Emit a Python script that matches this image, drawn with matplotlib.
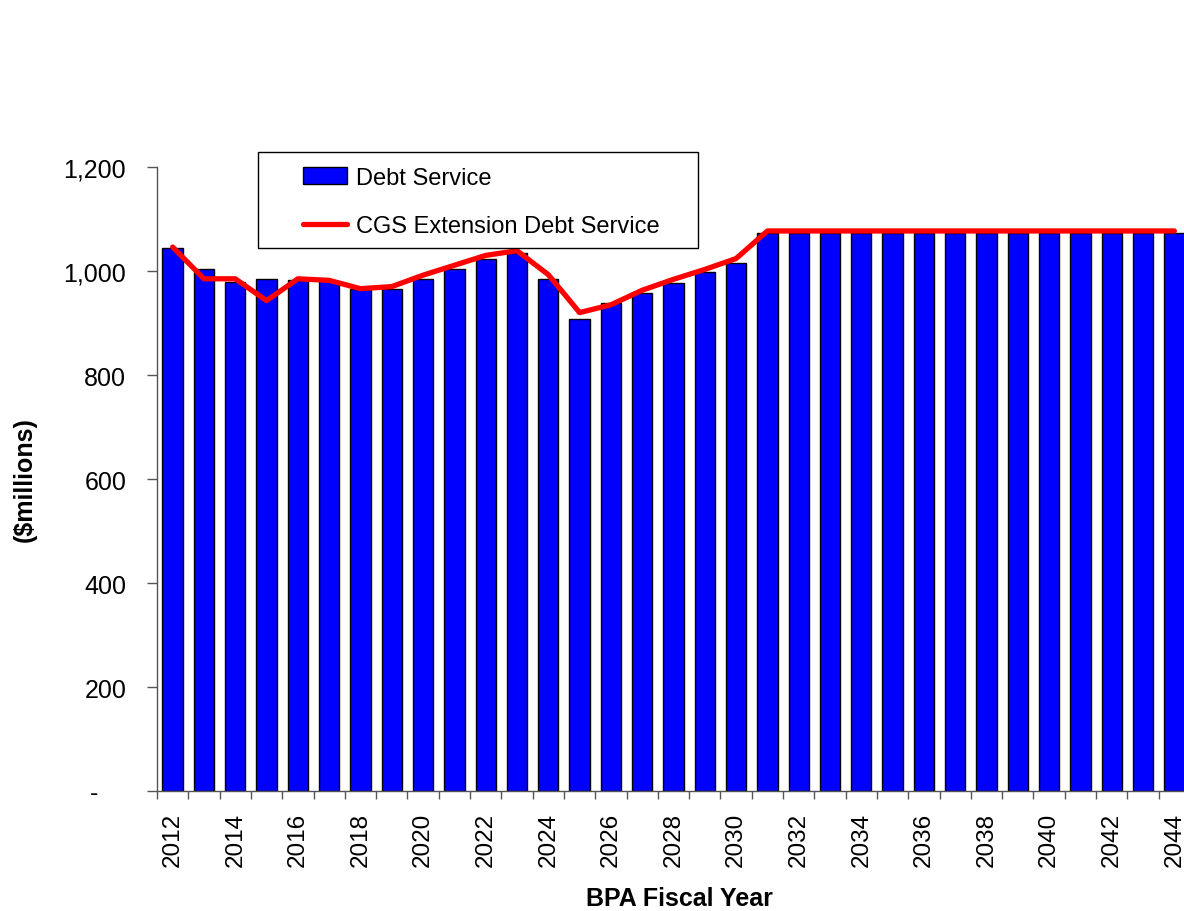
import matplotlib
matplotlib.use("Agg")
import matplotlib.pyplot as plt
from matplotlib.patches import Rectangle
from matplotlib.ticker import FixedLocator, FuncFormatter

plt.rcParams["font.family"] = ["Liberation Sans", "DejaVu Sans"]

# Fiscal years and debt service ($ millions)
years = list(range(2012, 2045))
debt_service = [1045, 1004, 979, 985, 982, 980, 966, 966, 985, 1004,
                1024, 1035, 985, 907, 938, 958, 976, 998, 1016, 1073,
                1073, 1073, 1073, 1073, 1073, 1073, 1073, 1073, 1073, 1073,
                1073, 1073, 1073]
cgs_extension = [1046, 985, 985, 943, 985, 982, 966, 970, 992, 1011,
                 1030, 1039, 993, 920, 935, 963, 984, 1003, 1024, 1077,
                 1077, 1077, 1077, 1077, 1077, 1077, 1077, 1077, 1077, 1077,
                 1077, 1077, 1077]
y_ticks = [0, 200, 400, 600, 800, 1000, 1200]

W, H = 1184, 912
fig = plt.figure(figsize=(W / 100, H / 100), dpi=100)
ax = fig.add_axes([157 / W, 1 - 792 / H, (1190 - 157) / W, (792 - 168) / H])

x = list(range(len(years)))
bars = ax.bar(x, debt_service, width=0.65, color="#0000FF",
              edgecolor="black", linewidth=1.0, label="Debt Service", zorder=2)
line, = ax.plot(x, cgs_extension, color="#FF0000", linewidth=3.8,
                solid_capstyle="round", solid_joinstyle="round",
                label="CGS Extension Debt Service", zorder=3)

ax.set_xlim(-0.5, len(years) - 0.5)
ax.set_ylim(0, 1200)

# spines
for side in ("top", "right"):
    ax.spines[side].set_visible(False)
for side in ("left", "bottom"):
    ax.spines[side].set_color("#555555")
    ax.spines[side].set_linewidth(1.0)

# y axis
ax.yaxis.set_major_locator(FixedLocator(y_ticks))
ax.yaxis.set_major_formatter(FuncFormatter(
    lambda v, p: "-\u2007\u2007" if v == 0 else f"{int(v):,}"))
ax.tick_params(axis="y", direction="out", length=7.2, width=1.0,
               color="#555555", pad=15, labelsize=18)

# x axis: labels under every other year, tick marks between categories
label_idx = [i for i, yr in enumerate(years) if yr % 2 == 0]
ax.set_xticks(label_idx)
ax.set_xticklabels([str(years[i]) for i in label_idx], rotation=90)
ax.set_xticks([i - 0.5 for i in range(len(years) + 1)], minor=True)
ax.tick_params(axis="x", which="major", length=0, pad=15, labelsize=17.5)
ax.tick_params(axis="x", which="minor", direction="out", length=6,
               width=1.0, color="#555555")

fig.text(25 / W, 1 - 480 / H, "($millions)", rotation=90, ha="center",
         va="center", fontsize=18, fontweight="bold")
fig.text(679 / W, 1 - 899 / H, "BPA Fiscal Year", ha="center",
         va="center", fontsize=18, fontweight="bold")

# legend box
fig.patches.append(Rectangle((258 / W, 1 - 249 / H), (698 - 258) / W,
                             (249 - 153) / H, transform=fig.transFigure,
                             facecolor="white", edgecolor="black",
                             linewidth=1.0, zorder=5))
leg = fig.legend(handles=[bars, line], loc="upper left",
                 bbox_to_anchor=(284 / W, 1 - 149 / H), frameon=False,
                 fontsize=17, handlelength=1.88, handletextpad=0.35,
                 labelspacing=1.1, borderpad=0.3)
leg.set_zorder(6)

fig.savefig("out.png", dpi=100)
